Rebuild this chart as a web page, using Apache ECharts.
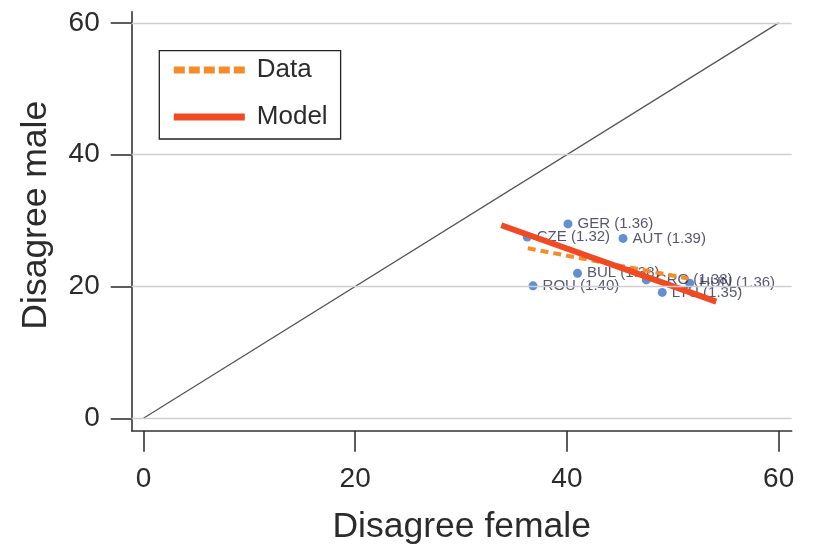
<!DOCTYPE html>
<html>
<head>
<meta charset="utf-8">
<script src="https://cdn.jsdelivr.net/npm/echarts@6/dist/echarts.min.js"></script>
<style>
html,body{margin:0;padding:0;background:#fff;}
#chart{width:814px;height:547px;}
</style>
</head>
<body>
<div id="chart"></div>
<script>
// ---- data ----
const countries = ['GER', 'CZE', 'AUT', 'BUL', 'ROU', 'CRO', 'LTU', 'HUN'];
const femaleDisagree = [40.1, 36.25, 45.3, 41.0, 36.8, 47.5, 49.0, 51.6];
const maleDisagree = [29.5, 27.5, 27.3, 22.0, 20.1, 21.0, 19.1, 20.5];
const ratios = ['1.36', '1.32', '1.39', '1.38', '1.40', '1.38', '1.35', '1.36'];
const dataLine = [[36.3, 25.8], [51.5, 21.2]];
const modelLine = [[33.8, 29.3], [54.1, 17.7]];
const diagonal = [[0, 0], [60, 60]];
const tickValues = [0, 20, 40, 60];

const FONT = "'Liberation Sans', Arial, sans-serif";
const chart = echarts.init(document.getElementById('chart'));

const points = countries.map((c, i) => ({
  name: c,
  value: [femaleDisagree[i], maleDisagree[i]],
  ratio: ratios[i]
}));

const axisCommon = {
  type: 'value',
  axisLine: { show: true, onZero: false, lineStyle: { color: '#333', width: 1.6 } },
  axisTick: { show: true, customValues: tickValues, length: 21, lineStyle: { color: '#333', width: 1.6 } },
  axisLabel: { customValues: tickValues, fontSize: 28, color: '#2b2b2b', fontFamily: FONT },
  splitLine: { show: false },
  nameLocation: 'middle',
  nameTextStyle: { fontSize: 35.5, color: '#2b2b2b', fontFamily: FONT }
};

chart.setOption({
  animation: false,
  backgroundColor: '#fff',
  grid: { left: 131.7, right: 22.3, top: 11.7, bottom: 116.3, containLabel: false, outerBoundsMode: 'none' },
  xAxis: Object.assign({}, axisCommon, {
    min: -1.11, max: 61.23,
    name: 'Disagree female',
    nameGap: 79,
    axisLabel: Object.assign({}, axisCommon.axisLabel, { margin: 35 })
  }),
  yAxis: Object.assign({}, axisCommon, {
    min: -1.88, max: 61.7,
    name: 'Disagree male',
    nameGap: 77,
    nameTextStyle: Object.assign({}, axisCommon.nameTextStyle, { padding: [0, 0, 0, 12] }),
    axisLabel: Object.assign({}, axisCommon.axisLabel, { margin: 32 })
  }),
  legend: {
    orient: 'vertical',
    left: 159.3,
    top: 50.7,
    data: [
      { name: 'Data', lineStyle: { type: [11, 4] } },
      { name: 'Model' }
    ],
    borderColor: '#222',
    borderWidth: 1.3,
    borderRadius: 0,
    padding: [6.3, 13, 9, 11],
    itemWidth: 71,
    itemHeight: 14,
    itemGap: 21,
    itemStyle: { color: 'rgba(0,0,0,0)', borderWidth: 0, opacity: 0 },
    lineStyle: { width: 7 },
    formatter: n => '{t|' + n + '}',
    textStyle: {
      fontFamily: FONT,
      rich: { t: { fontSize: 26, lineHeight: 30, color: '#2b2b2b', fontFamily: FONT, padding: [0, 0, 0, 7] } }
    }
  },
  series: [
    {
      name: 'diag',
      type: 'line',
      data: diagonal,
      symbol: 'none',
      silent: true,
      z: 1,
      lineStyle: { color: '#555', width: 1.3 },
      markLine: {
        silent: true,
        symbol: 'none',
        label: { show: false },
        lineStyle: { color: '#cfcfcf', width: 1.4, type: 'solid' },
        data: tickValues.map(v => ({ yAxis: v }))
      }
    },
    {
      name: 'countries',
      type: 'scatter',
      data: points,
      symbolSize: 9,
      z: 2,
      itemStyle: { color: '#3b74c2' },
      label: {
        show: true,
        position: 'right',
        distance: 5,
        fontSize: 15,
        fontFamily: FONT,
        color: '#2c2c50',
        formatter: p => p.name + ' (' + p.data.ratio + ')'
      }
    },
    {
      name: 'Data',
      type: 'line',
      data: dataLine,
      symbol: 'none',
      z: 3,
      color: '#f38d2c',
      lineStyle: { color: '#f38d2c', width: 4, type: [8, 5] }
    },
    {
      name: 'Model',
      type: 'line',
      data: modelLine,
      symbol: 'none',
      z: 4,
      color: '#ef4a24',
      lineStyle: { color: '#ef4a24', width: 6 }
    }
  ]
});
</script>
</body>
</html>
